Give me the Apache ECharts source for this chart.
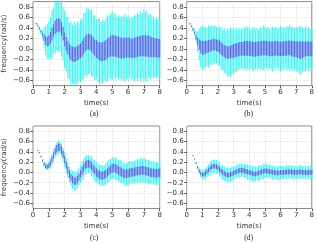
<!DOCTYPE html>
<html><head><meta charset="utf-8">
<script src="https://cdn.jsdelivr.net/npm/echarts@6/dist/echarts.min.js"></script>
<style>html,body{margin:0;padding:0;background:#fff}#c{width:317px;height:243px}</style>
</head><body><div id="c"></div>
<script>
// time stamps (s)
const times = [0.2,0.3,0.4,0.5,0.6,0.7,0.8,0.9,1.0,1.1,1.2,1.3,1.4,1.5,1.6,1.7,1.8,1.9,2.0,2.1,2.2,2.3,2.4,2.5,2.6,2.7,2.8,2.9,3.0,3.1,3.2,3.3,3.4,3.5,3.6,3.7,3.8,3.9,4.0,4.1,4.2,4.3,4.4,4.5,4.6,4.7,4.8,4.9,5.0,5.1,5.2,5.3,5.4,5.5,5.6,5.7,5.8,5.9,6.0,6.1,6.2,6.3,6.4,6.5,6.6,6.7,6.8,6.9,7.0,7.1,7.2,7.3,7.4,7.5,7.6,7.7,7.8,7.9,8.0];

// panel (a): mean, inner half-width (blue), outer half-width (cyan)
const meanA = [0.48,0.44,0.39,0.33,0.27,0.21,0.16,0.14,0.16,0.21,0.28,0.35,0.41,0.44,0.46,0.44,0.38,0.29,0.18,0.09,0.02,-0.04,-0.08,-0.10,-0.11,-0.10,-0.08,-0.06,-0.04,0.00,0.05,0.10,0.13,0.14,0.13,0.10,0.06,0.02,0.00,-0.03,-0.05,-0.06,-0.05,-0.04,-0.02,0.01,0.03,0.05,0.06,0.06,0.05,0.04,0.03,0.02,0.01,0.01,0.02,0.02,0.03,0.02,0.01,0.01,0.02,0.03,0.04,0.05,0.05,0.06,0.06,0.06,0.05,0.05,0.04,0.03,0.03,0.02,0.02,0.01,0.01];
const innerA = [0.01,0.01,0.015,0.02,0.03,0.06,0.08,0.09,0.10,0.11,0.12,0.12,0.13,0.13,0.13,0.13,0.13,0.13,0.13,0.13,0.13,0.14,0.14,0.14,0.14,0.14,0.14,0.14,0.14,0.15,0.15,0.15,0.15,0.15,0.16,0.16,0.16,0.16,0.17,0.17,0.17,0.18,0.18,0.18,0.19,0.19,0.19,0.20,0.20,0.21,0.20,0.20,0.21,0.20,0.20,0.19,0.20,0.19,0.19,0.19,0.18,0.19,0.19,0.19,0.20,0.19,0.20,0.20,0.20,0.21,0.20,0.21,0.20,0.19,0.19,0.18,0.18,0.18,0.18];
const outerA = [0.02,0.03,0.04,0.05,0.08,0.20,0.28,0.33,0.36,0.40,0.46,0.44,0.50,0.47,0.52,0.49,0.53,0.50,0.55,0.52,0.58,0.54,0.60,0.56,0.62,0.57,0.60,0.55,0.60,0.58,0.63,0.60,0.66,0.62,0.60,0.64,0.58,0.62,0.57,0.60,0.63,0.58,0.61,0.56,0.60,0.64,0.59,0.62,0.66,0.60,0.63,0.57,0.61,0.58,0.62,0.60,0.64,0.59,0.62,0.56,0.60,0.58,0.63,0.60,0.65,0.61,0.67,0.62,0.70,0.64,0.68,0.60,0.63,0.57,0.60,0.55,0.58,0.54,0.56];

// panel (b)
const meanB = [0.48,0.43,0.37,0.31,0.22,0.14,0.08,0.04,0.02,0.02,0.03,0.04,0.05,0.06,0.07,0.08,0.08,0.07,0.06,0.04,0.01,-0.02,-0.04,-0.06,-0.07,-0.07,-0.06,-0.05,-0.04,-0.03,-0.02,-0.01,0.00,0.00,0.00,0.01,0.01,0.01,0.01,0.00,0.00,-0.01,-0.01,0.00,0.00,0.01,0.01,0.02,0.02,0.01,0.01,0.00,0.00,0.00,0.01,0.01,0.01,0.00,0.00,0.00,0.01,0.01,0.01,0.02,0.02,0.01,0.00,0.00,-0.01,-0.01,-0.02,-0.03,-0.02,-0.01,0.00,0.00,0.00,0.00,0.00];
const innerB = [0.01,0.01,0.02,0.02,0.04,0.07,0.10,0.12,0.13,0.13,0.12,0.12,0.12,0.11,0.11,0.11,0.11,0.11,0.12,0.12,0.12,0.12,0.12,0.12,0.12,0.12,0.12,0.13,0.13,0.13,0.13,0.13,0.13,0.13,0.13,0.14,0.14,0.14,0.14,0.14,0.14,0.14,0.14,0.14,0.14,0.14,0.14,0.14,0.14,0.14,0.14,0.14,0.14,0.14,0.14,0.14,0.14,0.14,0.14,0.14,0.14,0.14,0.14,0.14,0.14,0.14,0.15,0.15,0.15,0.16,0.16,0.17,0.16,0.15,0.14,0.14,0.14,0.14,0.14];
const outerB = [0.02,0.03,0.04,0.06,0.10,0.20,0.30,0.38,0.42,0.40,0.38,0.36,0.40,0.36,0.38,0.35,0.37,0.34,0.38,0.36,0.40,0.38,0.43,0.40,0.46,0.44,0.47,0.42,0.44,0.40,0.42,0.38,0.40,0.37,0.40,0.38,0.42,0.39,0.41,0.37,0.40,0.42,0.38,0.40,0.37,0.41,0.39,0.43,0.40,0.38,0.41,0.37,0.40,0.42,0.38,0.41,0.37,0.40,0.43,0.39,0.41,0.38,0.42,0.40,0.44,0.40,0.42,0.39,0.43,0.41,0.45,0.46,0.42,0.40,0.43,0.39,0.42,0.38,0.40];

// panel (c)
const meanC = [null,0.43,0.38,0.31,0.23,0.16,0.12,0.11,0.13,0.18,0.25,0.33,0.41,0.46,0.49,0.48,0.43,0.35,0.25,0.14,0.04,-0.04,-0.10,-0.14,-0.17,-0.17,-0.14,-0.09,-0.03,0.03,0.09,0.14,0.16,0.17,0.15,0.12,0.08,0.04,0.00,-0.03,-0.05,-0.06,-0.06,-0.05,-0.03,0.00,0.03,0.06,0.08,0.09,0.08,0.06,0.04,0.02,0.00,-0.02,-0.03,-0.03,-0.02,-0.01,0.00,0.00,0.01,0.02,0.03,0.03,0.04,0.04,0.04,0.03,0.02,0.01,0.00,-0.01,-0.01,-0.02,-0.02,-0.01,-0.01];
const innerC = [null,0.005,0.01,0.01,0.015,0.025,0.035,0.04,0.045,0.05,0.055,0.06,0.065,0.07,0.07,0.07,0.07,0.07,0.07,0.07,0.07,0.07,0.07,0.07,0.07,0.07,0.07,0.07,0.07,0.075,0.075,0.075,0.075,0.075,0.075,0.075,0.075,0.075,0.08,0.08,0.08,0.08,0.08,0.08,0.08,0.08,0.08,0.08,0.085,0.085,0.085,0.085,0.085,0.085,0.085,0.085,0.085,0.085,0.085,0.085,0.085,0.085,0.085,0.085,0.085,0.085,0.085,0.085,0.085,0.085,0.085,0.085,0.085,0.085,0.085,0.085,0.085,0.085,0.085];
const outerC = [null,0.01,0.015,0.02,0.03,0.05,0.06,0.07,0.08,0.09,0.10,0.11,0.12,0.12,0.13,0.12,0.13,0.13,0.14,0.14,0.15,0.15,0.16,0.17,0.18,0.18,0.17,0.17,0.17,0.18,0.18,0.19,0.18,0.17,0.18,0.19,0.18,0.20,0.19,0.20,0.19,0.21,0.20,0.19,0.21,0.20,0.22,0.20,0.21,0.20,0.22,0.21,0.20,0.22,0.21,0.20,0.22,0.21,0.23,0.21,0.22,0.20,0.22,0.21,0.23,0.22,0.24,0.22,0.24,0.23,0.22,0.24,0.22,0.21,0.23,0.21,0.22,0.20,0.21];

// panel (d)
const meanD = [null,null,0.33,0.26,0.18,0.10,0.03,-0.02,-0.04,-0.04,-0.02,0.01,0.05,0.08,0.11,0.12,0.12,0.11,0.09,0.06,0.03,0.00,-0.02,-0.04,-0.05,-0.05,-0.04,-0.03,-0.01,0.00,0.02,0.03,0.04,0.04,0.04,0.03,0.02,0.01,0.00,-0.01,-0.02,-0.03,-0.03,-0.02,-0.01,0.00,0.01,0.02,0.03,0.03,0.02,0.02,0.01,0.00,0.00,-0.01,-0.01,-0.01,0.00,0.00,0.00,0.00,0.01,0.01,0.01,0.01,0.00,0.00,0.00,0.00,0.01,0.01,0.00,0.00,0.00,-0.01,0.00,0.00,0.00];
const innerD = [null,null,0.005,0.01,0.01,0.02,0.025,0.03,0.035,0.04,0.04,0.04,0.04,0.04,0.045,0.045,0.045,0.045,0.045,0.045,0.045,0.045,0.045,0.045,0.045,0.045,0.045,0.045,0.045,0.045,0.045,0.045,0.045,0.045,0.045,0.045,0.045,0.045,0.045,0.045,0.045,0.045,0.045,0.045,0.045,0.045,0.045,0.045,0.045,0.045,0.045,0.045,0.045,0.045,0.045,0.045,0.045,0.045,0.045,0.045,0.045,0.045,0.045,0.045,0.045,0.045,0.045,0.045,0.045,0.045,0.045,0.045,0.045,0.045,0.045,0.045,0.045,0.045,0.045];
const outerD = [null,null,0.01,0.015,0.02,0.04,0.06,0.08,0.09,0.10,0.10,0.11,0.11,0.12,0.12,0.13,0.12,0.13,0.12,0.13,0.12,0.13,0.14,0.13,0.15,0.14,0.13,0.14,0.13,0.12,0.13,0.12,0.14,0.13,0.12,0.14,0.13,0.15,0.14,0.15,0.14,0.16,0.14,0.13,0.15,0.14,0.13,0.15,0.14,0.13,0.14,0.12,0.13,0.14,0.12,0.13,0.12,0.14,0.13,0.12,0.13,0.12,0.14,0.13,0.12,0.13,0.14,0.12,0.13,0.12,0.14,0.13,0.12,0.13,0.12,0.13,0.12,0.13,0.12];

const yTicks = [-0.6,-0.4,-0.2,0.0,0.2,0.4,0.6,0.8];
const xTicksMax = 8;
const panelLabels = ['(a)','(b)','(c)','(d)'];
const xName = 'time(s)';
const yName = 'frequency(rad/s)';

const CYAN = '#38f6f6', BLUE = '#6a5bee';
const panels = [[meanA,innerA,outerA],[meanB,innerB,outerB],[meanC,innerC,outerC],[meanD,innerD,outerD]];
const grids = [
  {left:32.3, top:1.6, width:127.4, height:84},
  {left:186.7, top:1.6, width:127.2, height:84},
  {left:32.3, top:126, width:127.4, height:82.5},
  {left:186.7, top:126, width:127.2, height:82.5}
];
const font = 'DejaVu Sans';
function renderItem(params, api){
  const t=api.value(0), m=api.value(1), s1=api.value(2), s2=api.value(3);
  const cs=params.coordSys;
  function seg(lo,hi,color,w){
    const p1=api.coord([t,hi]), p2=api.coord([t,lo]);
    const y1=Math.max(p1[1],cs.y), y2=Math.min(p2[1],cs.y+cs.height);
    return {type:'rect', shape:{x:p1[0]-w/2,y:y1,width:w,height:Math.max(y2-y1,1)}, style:{fill:color}};
  }
  return {type:'group', children:[seg(m-s2,m+s2,CYAN,1.05), seg(m-s1,m+s1,BLUE,1.05)]};
}
const xAxis=[], yAxis=[], series=[], graphic=[];
grids.forEach((g,i)=>{
  xAxis.push({gridIndex:i, type:'value', min:0, max:xTicksMax, interval:1,
    name:xName, nameLocation:'middle', nameGap:14, nameTextStyle:{fontFamily:font,fontSize:7,color:'#333'},
    axisLine:{show:false,onZero:false}, axisTick:{show:true,length:2.5,lineStyle:{color:'#555'}},
    axisLabel:{fontFamily:font,fontSize:7,color:'#333',margin:3},
    splitLine:{show:true,lineStyle:{color:'#d0d0d0',type:[1,1.5],width:0.8}}});
  yAxis.push({gridIndex:i, type:'value', min:-0.7, max:0.9,
    name:(i%2===0)?yName:'', nameLocation:'middle', nameGap:25, nameTextStyle:{fontFamily:font,fontSize:7,color:'#333'},
    axisLine:{show:false}, axisTick:{show:true,length:2.5,customValues:yTicks,lineStyle:{color:'#555'}},
    axisLabel:{fontFamily:font,fontSize:7,color:'#333',margin:3,customValues:yTicks,
      formatter:v=>(v<0?'\u2212':'')+Math.abs(v).toFixed(1)},
    splitLine:{show:true,lineStyle:{color:'#d0d0d0',type:[1,1.5],width:0.8}}});
  const [m,s1,s2]=panels[i];
  const data=[];
  times.forEach((t,k)=>{ if(m[k]!==null) data.push([t,m[k],s1[k],s2[k]]); });
  series.push({type:'custom', xAxisIndex:i, yAxisIndex:i, renderItem, data,
    dimensions:['t','mean','s1','s2'], encode:{x:0,y:1}, silent:true, animation:false});
  graphic.push({type:'text', left:g.left+g.width/2-6, top:(i<2?110:234),
    style:{text:panelLabels[i], font:'7.5px "Liberation Serif"', fill:'#222'}});
});
const chart=echarts.init(document.getElementById('c'),null,{renderer:'canvas'});
chart.setOption({animation:false,
  grid:grids.map(g=>Object.assign({show:true,borderColor:'#8a8a8a',borderWidth:1,containLabel:false},g)),
  xAxis,yAxis,series,graphic});
</script></body></html>
